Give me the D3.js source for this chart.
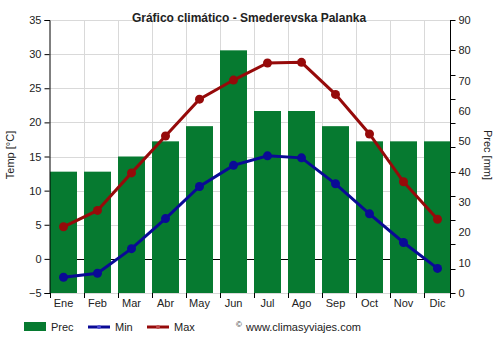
<!DOCTYPE html>
<html>
<head>
<meta charset="utf-8">
<script src="https://cdn.jsdelivr.net/npm/d3@7/dist/d3.min.js"></script>
<style>
  html, body { margin: 0; padding: 0; background: #fff; }
  svg { display: block; font-family: "Liberation Sans", Arial, sans-serif; }
</style>
</head>
<body>
<svg id="chart" width="500" height="350"></svg>
<script>
// Monthly climate data
const months = ["Ene", "Feb", "Mar", "Abr", "May", "Jun", "Jul", "Ago", "Sep", "Oct", "Nov", "Dic"];
const prec = [40, 40, 45, 50, 55, 80, 60, 60, 55, 50, 50, 50];
const tmin = [-2.7, -2.1, 1.5, 5.9, 10.6, 13.7, 15.1, 14.8, 11.0, 6.6, 2.4, -1.4];
const tmax = [4.7, 7.1, 12.6, 18.0, 23.4, 26.2, 28.7, 28.8, 24.1, 18.3, 11.3, 5.8];
const tempTicks = [-5, 0, 5, 10, 15, 20, 25, 30, 35];
const precTicks = [0, 10, 20, 30, 40, 50, 60, 70, 80, 90];
const precMarks = [0, 8, 16, 24, 32, 40, 48, 56, 64, 72, 80, 90];

const svg = d3.select("#chart");
const plotL = 49.5, plotR = 450.5, plotT = 20, plotB = 293;

const x = d3.scaleBand().domain(months).range([plotL, plotL + 12 * 34]).padding(0);
const barW = 27;
const cx = m => x(m) + 0.5 + barW / 2;
const yT = d3.scaleLinear().domain([-5, 35]).range([plotB, plotT]);
const yP = d3.scaleLinear().domain([0, 90]).range([plotB, plotT]);

const green = "#067a30", blue = "#0a0a96", red = "#960a0a", grid = "#d9d9d9", txt = "#222";

// grid
const g = svg.append("g");
g.selectAll("line.h").data(tempTicks.filter(t => t !== 0)).join("line")
  .attr("x1", plotL).attr("x2", plotR)
  .attr("y1", d => Math.round(yT(d)) + 0.5).attr("y2", d => Math.round(yT(d)) + 0.5)
  .attr("stroke", grid).attr("stroke-width", 1);
g.selectAll("line.v").data(months.slice(1)).join("line")
  .attr("x1", d => Math.round(x(d)) + 0.5).attr("x2", d => Math.round(x(d)) + 0.5)
  .attr("y1", plotT).attr("y2", plotB)
  .attr("stroke", grid).attr("stroke-width", 1);
// zero line
g.append("line")
  .attr("x1", plotL).attr("x2", plotR)
  .attr("y1", Math.round(yT(0)) + 0.5).attr("y2", Math.round(yT(0)) + 0.5)
  .attr("stroke", "#000").attr("stroke-width", 1);

// precipitation bars
svg.append("g").selectAll("rect").data(months).join("rect")
  .attr("x", d => x(d) + 0.5)
  .attr("width", barW)
  .attr("y", (d, i) => yP(prec[i]))
  .attr("height", (d, i) => plotB - yP(prec[i]))
  .attr("fill", green);

// left axis
const axL = svg.append("g").attr("transform", `translate(${plotL},0)`)
  .call(d3.axisLeft(yT).tickValues(tempTicks).tickSize(5).tickPadding(3).tickFormat(d3.format("d")));
axL.selectAll("text").attr("font-size", 11).attr("fill", txt).attr("font-family", "Liberation Sans, Arial, sans-serif");
axL.select(".domain").attr("stroke", "#000");

// right axis
const axR = svg.append("g").attr("transform", `translate(${plotR},0)`);
axR.append("line").attr("x1", 0).attr("x2", 0).attr("y1", plotT).attr("y2", plotB).attr("stroke", "#000");
axR.selectAll("line.t").data(precMarks).join("line")
  .attr("x1", 0).attr("x2", 5)
  .attr("y1", d => Math.round(yP(d)) + 0.5).attr("y2", d => Math.round(yP(d)) + 0.5)
  .attr("stroke", "#000");
axR.selectAll("text").data(precTicks).join("text")
  .attr("x", 8).attr("y", d => yP(d)).attr("dy", "0.35em")
  .attr("font-size", 11).attr("fill", txt).text(d => d);

// bottom ticks and labels
const axB = svg.append("g");
axB.selectAll("line").data(months).join("line")
  .attr("x1", d => Math.round(x(d)) + 0.5).attr("x2", d => Math.round(x(d)) + 0.5)
  .attr("y1", plotB).attr("y2", plotB + 5).attr("stroke", "#000");
axB.append("line").attr("x1", plotR).attr("x2", plotR).attr("y1", plotB).attr("y2", plotB + 5).attr("stroke", "#000");
axB.selectAll("text").data(months).join("text")
  .attr("x", d => cx(d)).attr("y", 307)
  .attr("text-anchor", "middle").attr("font-size", 11).attr("fill", txt).text(d => d);

// temperature lines
function series(vals, color) {
  const line = d3.line().x((d, i) => cx(months[i])).y(d => yT(d));
  svg.append("path").datum(vals).attr("d", line)
    .attr("fill", "none").attr("stroke", color).attr("stroke-width", 3);
  svg.append("g").selectAll("circle").data(vals).join("circle")
    .attr("cx", (d, i) => cx(months[i])).attr("cy", d => yT(d))
    .attr("r", 4.5).attr("fill", color);
}
series(tmin, blue);
series(tmax, red);

// title
svg.append("text").attr("x", 249).attr("y", 22).attr("text-anchor", "middle")
  .attr("font-size", 12).attr("font-weight", "bold").attr("fill", txt)
  .text("Gráfico climático - Smederevska Palanka");

// axis titles
svg.append("text").attr("transform", "translate(14,155) rotate(-90)")
  .attr("text-anchor", "middle").attr("font-size", 11).attr("fill", txt).text("Temp [°C]");
svg.append("text").attr("transform", "translate(484,155) rotate(90)")
  .attr("text-anchor", "middle").attr("font-size", 11).attr("fill", txt).text("Prec [mm]");

// legend
const lg = svg.append("g");
lg.append("rect").attr("x", 24).attr("y", 322).attr("width", 22).attr("height", 9).attr("fill", green);
lg.append("text").attr("x", 51).attr("y", 330.5).attr("font-size", 11).attr("fill", txt).text("Prec");
lg.append("line").attr("x1", 88).attr("x2", 110).attr("y1", 327).attr("y2", 327).attr("stroke", blue).attr("stroke-width", 3);
lg.append("circle").attr("cx", 99).attr("cy", 327).attr("r", 2).attr("fill", "#4a4ad0");
lg.append("text").attr("x", 115).attr("y", 330.5).attr("font-size", 11).attr("fill", txt).text("Min");
lg.append("line").attr("x1", 147).attr("x2", 169).attr("y1", 327).attr("y2", 327).attr("stroke", red).attr("stroke-width", 3);
lg.append("circle").attr("cx", 158).attr("cy", 327).attr("r", 2).attr("fill", "#c04a4a");
lg.append("text").attr("x", 174).attr("y", 330.5).attr("font-size", 11).attr("fill", txt).text("Max");
lg.append("text").attr("x", 236).attr("y", 327).attr("font-size", 8).attr("fill", txt).text("©");
lg.append("text").attr("x", 246).attr("y", 330.5).attr("font-size", 11).attr("fill", txt).text("www.climasyviajes.com");
</script>
</body>
</html>
